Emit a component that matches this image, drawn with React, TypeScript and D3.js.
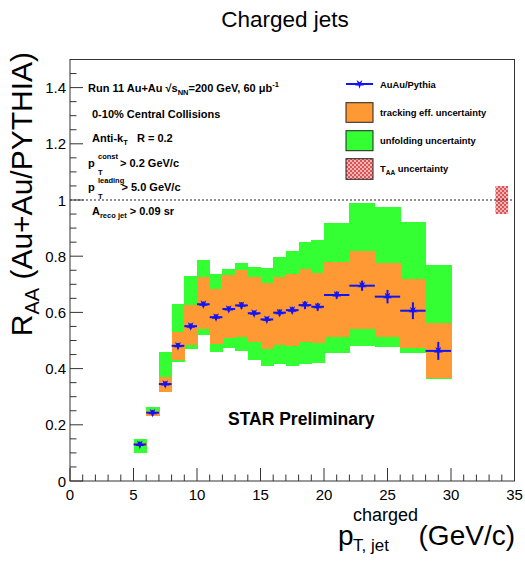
import React from "react";
import * as d3 from "d3";

// ---- data ----
const binEdges = [5, 6, 7, 8, 9, 10, 11, 12, 13, 14, 15, 16, 17, 18, 19, 20, 22, 24, 26, 28, 30];
const raa = [0.13, 0.243, 0.345, 0.481, 0.551, 0.629, 0.583, 0.612, 0.625, 0.597, 0.575, 0.599, 0.608, 0.626, 0.62, 0.662, 0.695, 0.656, 0.606, 0.463];
const statErr = [0.01, 0.01, 0.01, 0.01, 0.01, 0.01, 0.01, 0.01, 0.012, 0.01, 0.01, 0.012, 0.012, 0.014, 0.014, 0.013, 0.018, 0.024, 0.03, 0.032];
const trackLo = [0.125, 0.232, 0.318, 0.43, 0.484, 0.54, 0.488, 0.508, 0.511, 0.496, 0.469, 0.484, 0.481, 0.496, 0.49, 0.514, 0.541, 0.511, 0.474, 0.365];
const trackHi = [0.137, 0.25, 0.369, 0.531, 0.626, 0.727, 0.684, 0.733, 0.751, 0.727, 0.703, 0.727, 0.735, 0.753, 0.741, 0.78, 0.818, 0.777, 0.72, 0.561];
const unfoldLo = [0.1, 0.232, 0.318, 0.425, 0.47, 0.52, 0.458, 0.474, 0.464, 0.431, 0.409, 0.415, 0.409, 0.415, 0.419, 0.454, 0.481, 0.478, 0.454, 0.362];
const unfoldHi = [0.148, 0.265, 0.46, 0.63, 0.728, 0.786, 0.737, 0.756, 0.775, 0.76, 0.757, 0.796, 0.818, 0.852, 0.858, 0.919, 0.988, 0.976, 0.923, 0.769];
const taaX = [33.5, 34.5];
const taaRange = [0.95, 1.05];
const xTicks = [0, 5, 10, 15, 20, 25, 30, 35];
const xTickLabels = ["0", "5", "10", "15", "20", "25", "30", "35"];
const yTicks = [0, 0.2, 0.4, 0.6, 0.8, 1, 1.2, 1.4];
const yTickLabels = ["0", "0.2", "0.4", "0.6", "0.8", "1", "1.2", "1.4"];
const refLine = 1;

const FONT = "'Liberation Sans', Arial, Helvetica, sans-serif";
const BLUE = "#1414f0";
const ORANGE = "#ff9933";
const GREEN = "#33ff33";

export default function App() {
  const x = d3.scaleLinear().domain([0, 35]).range([70, 514.5]);
  const y = d3.scaleLinear().domain([0, 1.5]).range([481, 59.5]);
  const bins = raa.map((v, i) => ({
    lo: binEdges[i],
    hi: binEdges[i + 1],
    c: (binEdges[i] + binEdges[i + 1]) / 2,
    v,
    e: statErr[i],
    tl: trackLo[i],
    th: trackHi[i],
    ul: unfoldLo[i],
    uh: unfoldHi[i],
  }));
  const star = d3.symbol().type(d3.symbolStar).size(26)();
  const xMinor = d3.range(0, 35.001, 1);
  const yMinor = d3.range(0, 1.5001, 0.05);
  const [x0, x1] = x.range();
  const [yb, yt] = y.range();

  return (
    <svg width={525} height={562} style={{ position: "absolute", left: 0, top: 0, background: "#fff" }} fontFamily={FONT}>
      <defs>
        <pattern id="taa" width={4} height={4} patternUnits="userSpaceOnUse">
          <rect width={4} height={4} fill="#f4b4b4" />
          <rect width={2} height={2} fill="#d95555" />
          <rect x={2} y={2} width={2} height={2} fill="#d95555" />
        </pattern>
      </defs>
      <rect width={525} height={562} fill="#fff" />
      <text x={285} y={27} textAnchor="middle" fontSize={22.5}>Charged jets</text>

      {/* bands */}
      <g shapeRendering="crispEdges">
        {bins.map((b, i) => (
          <rect key={"g" + i} x={x(b.lo)} width={x(b.hi) - x(b.lo) + 0.6} y={y(b.uh)} height={y(b.ul) - y(b.uh)} fill={GREEN} />
        ))}
        {bins.map((b, i) => (
          <rect key={"o" + i} x={x(b.lo)} width={x(b.hi) - x(b.lo) + (i < bins.length - 1 ? 0.6 : 0)} y={y(b.th)} height={y(b.tl) - y(b.th)} fill={ORANGE} />
        ))}
      </g>

      {/* TAA */}
      <rect x={x(taaX[0])} width={x(taaX[1]) - x(taaX[0])} y={y(taaRange[1])} height={y(taaRange[0]) - y(taaRange[1])} fill="url(#taa)" />
      <line x1={x0} x2={x1} y1={y(refLine)} y2={y(refLine)} stroke="#222" strokeWidth={1.2} strokeDasharray="2,2" />

      {/* data */}
      {bins.map((b, i) => (
        <g key={"p" + i} stroke={BLUE} strokeWidth={2}>
          <line x1={x(b.lo)} x2={x(b.hi)} y1={y(b.v)} y2={y(b.v)} />
          <line x1={x(b.c)} x2={x(b.c)} y1={y(b.v - b.e)} y2={y(b.v + b.e)} />
          <path d={star} transform={`translate(${x(b.c)},${y(b.v)}) rotate(180)`} fill={BLUE} stroke="none" />
        </g>
      ))}

      {/* frame & axes */}
      <g stroke="#333" strokeWidth={1} fill="none">
        <rect x={x0} y={yt} width={x1 - x0} height={yb - yt} />
        {xMinor.map((t) => (
          <line key={"xm" + t} x1={x(t)} x2={x(t)} y1={yb} y2={yb - (t % 5 === 0 ? 13 : 6.5)} />
        ))}
        {yMinor.map((t, i) => (
          <line key={"ym" + i} x1={x0} x2={x0 + (i % 4 === 0 ? 13 : 6.5)} y1={y(t)} y2={y(t)} />
        ))}
      </g>
      {xTicks.map((t, i) => (
        <text key={"xl" + t} x={x(t)} y={500} textAnchor="middle" fontSize={15}>{xTickLabels[i]}</text>
      ))}
      {yTicks.map((t, i) => (
        <text key={"yl" + t} x={66} y={y(t) + 5.5} textAnchor="end" fontSize={15}>{yTickLabels[i]}</text>
      ))}

      {/* axis titles */}
      <text transform="translate(32,52) rotate(-90)" textAnchor="end" fontSize={30}>
        R<tspan fontSize={20} dy={7}>AA</tspan><tspan dy={-7}> (Au+Au/PYTHIA)</tspan>
      </text>
      <text x={338} y={545} fontSize={28}>p</text>
      <text x={353} y={521} fontSize={18}>charged</text>
      <text x={353} y={551} fontSize={17}>T, jet</text>
      <text x={515} y={545} textAnchor="end" fontSize={28}>(GeV/c)</text>

      {/* info text */}
      <g fontSize={11} fontWeight="bold">
        <text x={88} y={91.5}>
          Run 11 Au+Au √s<tspan fontSize={7.5} dy={3}>NN</tspan><tspan dy={-3}>=200 GeV, 60 μb</tspan><tspan fontSize={7.5} dy={-5}>-1</tspan>
        </text>
        <text x={92} y={118.3}>0-10% Central Collisions</text>
        <text x={92} y={142.3}>
          Anti-k<tspan fontSize={7.5} dy={3}>T</tspan><tspan dy={-3}>{"\u00a0\u00a0 R = 0.2"}</tspan>
        </text>
        <text x={88} y={166.7}>p</text>
        <text x={98} y={158.5} fontSize={7.5}>const</text>
        <text x={98} y={174.5} fontSize={7.5}>T</text>
        <text x={120} y={166.7}>{"> 0.2 GeV/c"}</text>
        <text x={88} y={190.7}>p</text>
        <text x={98} y={182.5} fontSize={7.5}>leading</text>
        <text x={98} y={198.5} fontSize={7.5}>T</text>
        <text x={121.5} y={190.7}>{"> 5.0 GeV/c"}</text>
        <text x={92} y={215}>
          A<tspan fontSize={7.5} dy={3}>reco jet</tspan><tspan dy={-3}>{" > 0.09 sr"}</tspan>
        </text>
      </g>
      <text x={228} y={425} fontSize={17.5} fontWeight="bold">STAR Preliminary</text>

      {/* legend */}
      <g fontSize={9.4} fontWeight="bold">
        <line x1={346} x2={373} y1={84} y2={84} stroke={BLUE} strokeWidth={2} />
        <path d={star} transform="translate(359.5,84) rotate(180)" fill={BLUE} />
        <text x={380} y={88}>AuAu/Pythia</text>
        <rect x={346} y={102.7} width={27} height={19.6} fill={ORANGE} stroke="#222" />
        <text x={380} y={116}>tracking eff. uncertainty</text>
        <rect x={346} y={130.7} width={27} height={20} fill={GREEN} stroke="#222" />
        <text x={380} y={144}>unfolding uncertainty</text>
        <rect x={346} y={158.7} width={27} height={20.6} fill="url(#taa)" stroke="#222" />
        <text x={380} y={172}>
          T<tspan fontSize={6.5} dy={2.5}>AA</tspan><tspan dy={-2.5}> uncertainty</tspan>
        </text>
      </g>
    </svg>
  );
}
